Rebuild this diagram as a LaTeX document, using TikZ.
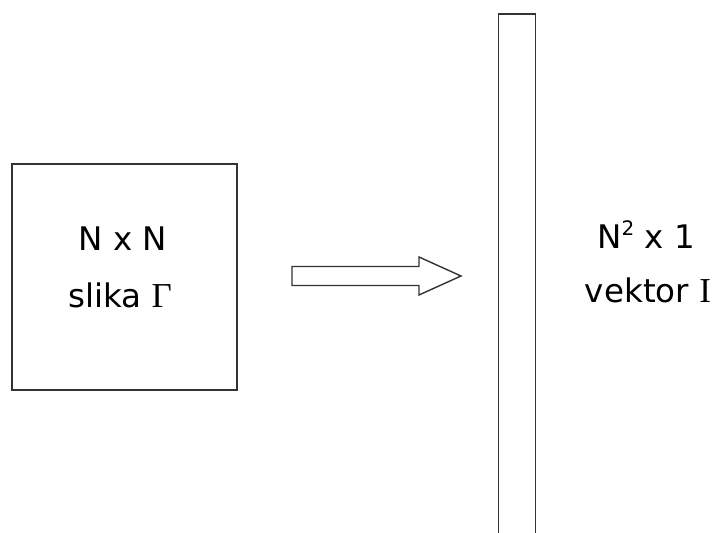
\documentclass[tikz,border=0pt]{standalone}
\usepackage{fontspec}
\setmainfont{DejaVu Sans}
\newfontfamily\serifsym{Liberation Serif}
\usepackage{tikz}

\begin{document}
\begin{tikzpicture}[x=1pt,y=1pt,
  box/.style={draw=black!80,line width=1.4pt,inner sep=0pt},
  lbl/.style={anchor=base,inner sep=0pt,font=\fontsize{32.5}{38}\selectfont}]
  \useasboundingbox (0,0) rectangle (716,533);
  \node[box,minimum width=225pt,minimum height=226pt] (slika) at (124.5,256) {};
  \node[box,minimum width=37pt,minimum height=546pt] (vektor) at (517,246) {};
  \node[lbl] (nn) at (123,282) {N x N};
  \node[lbl] (sl) at (120,225) {slika {\serifsym\fontsize{35}{38}\selectfont Γ}};
  \node[lbl] (n2) at (646,284) {N\raisebox{0.42em}{\fontsize{20}{20}\selectfont 2} x 1};
  \node[lbl] (vk) at (648,230) {vektor {\serifsym\fontsize{35}{38}\selectfont I}};
  % block arrow
  \coordinate (tail) at (292,257);
  \coordinate (tip) at (461,257);
  \draw[box,line join=miter] (tail) ++(0,9.5) -- ++(127,0) -- ++(0,9.5) -- (tip)
    -- ++(-42,-19) -- ++(0,9.5) -- ++(-127,0) -- cycle;
\end{tikzpicture}
\end{document}
